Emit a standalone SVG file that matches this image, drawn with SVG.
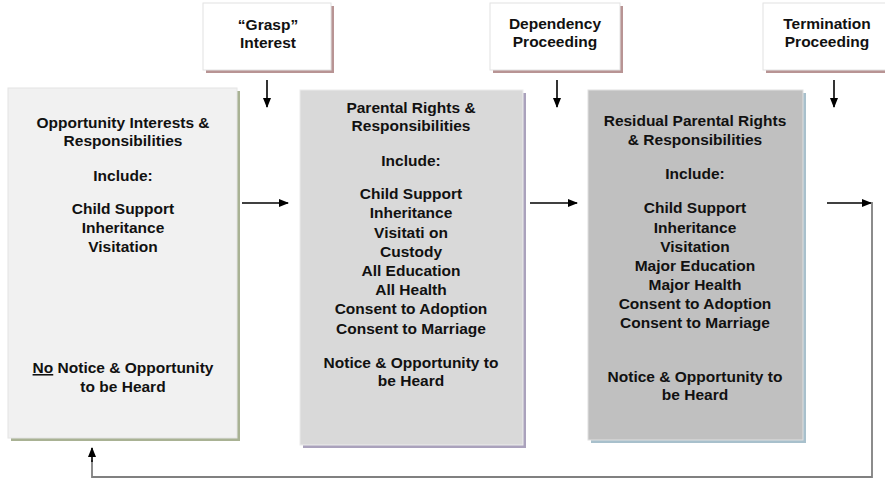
<svg xmlns="http://www.w3.org/2000/svg" width="885" height="481" viewBox="0 0 885 481">
<style>
text{font-family:"Liberation Sans",Arial,sans-serif;font-weight:bold;fill:#111;text-anchor:middle}
.t{font-size:15.5px}
.s{font-size:15.5px}
.arr{stroke:#000;stroke-width:1.6;fill:none}
.ret{stroke:#808080;stroke-width:1.8;fill:none}
.top{fill:#fff;stroke:#e2e2e2;stroke-width:1}
</style>
<defs>
<marker id="ah" markerWidth="10" markerHeight="8" refX="9" refY="4" orient="auto" markerUnits="userSpaceOnUse">
<path d="M0,0 L10,4 L0,8 Z" fill="#000"/>
</marker>
</defs>
<rect width="885" height="481" fill="#fff"/>

<g id="grasp">
<rect x="206" y="6" width="128" height="67" fill="#b89494"/>
<rect class="top" x="203" y="3" width="128" height="67"/>
<text class="s" x="268" y="30">“Grasp”</text>
<text class="s" x="268" y="48">Interest</text>
</g>
<g id="dependency">
<rect x="493" y="6" width="130" height="67" fill="#b89494"/>
<rect class="top" x="490" y="3" width="130" height="67"/>
<text class="s" x="555" y="29">Dependency</text>
<text class="s" x="555" y="47">Proceeding</text>
</g>
<g id="termination">
<rect x="766" y="6" width="130" height="67" fill="#b89494"/>
<rect class="top" x="763" y="3" width="130" height="67"/>
<text class="s" x="827" y="29">Termination</text>
<text class="s" x="827" y="47">Proceeding</text>
</g>

<g id="opportunity">
<rect x="11" y="91" width="229" height="350" fill="#a9b294"/>
<rect x="8" y="88" width="229" height="350" fill="#f1f1f1" stroke="#e4e4e4"/>
<text class="t" x="123" y="128">Opportunity Interests &amp;</text>
<text class="t" x="123" y="146">Responsibilities</text>
<text class="t" x="123" y="181">Include:</text>
<text class="t" x="123" y="214">Child Support</text>
<text class="t" x="123" y="233">Inheritance</text>
<text class="t" x="123" y="252">Visitation</text>
<text class="t" x="123" y="373"><tspan text-decoration="underline">No</tspan> Notice &amp; Opportunity</text>
<text class="t" x="123" y="392">to be Heard</text>
</g>

<g id="parental">
<rect x="303" y="93" width="223" height="355" fill="#aaa2bc"/>
<rect x="300" y="90" width="223" height="355" fill="#d9d9d9" stroke="#ececec"/>
<text class="t" x="411" y="113">Parental Rights &amp;</text>
<text class="t" x="411" y="131">Responsibilities</text>
<text class="t" x="411" y="166">Include:</text>
<text class="t" x="411" y="199">Child Support</text>
<text class="t" x="411" y="218">Inheritance</text>
<text class="t" x="411" y="238">Visitati on</text>
<text class="t" x="411" y="257">Custody</text>
<text class="t" x="411" y="276">All Education</text>
<text class="t" x="411" y="295">All Health</text>
<text class="t" x="411" y="314">Consent to Adoption</text>
<text class="t" x="411" y="334">Consent to Marriage</text>
<text class="t" x="411" y="368">Notice &amp; Opportunity to</text>
<text class="t" x="411" y="386">be Heard</text>
</g>

<g id="residual">
<rect x="591" y="93" width="215" height="350" fill="#a8c0cc"/>
<rect x="588" y="90" width="215" height="350" fill="#c0c0c0" stroke="#e0e0e0"/>
<text class="t" x="695" y="126">Residual Parental Rights</text>
<text class="t" x="695" y="145">&amp; Responsibilities</text>
<text class="t" x="695" y="179">Include:</text>
<text class="t" x="695" y="213">Child Support</text>
<text class="t" x="695" y="233">Inheritance</text>
<text class="t" x="695" y="252">Visitation</text>
<text class="t" x="695" y="271">Major Education</text>
<text class="t" x="695" y="290">Major Health</text>
<text class="t" x="695" y="309">Consent to Adoption</text>
<text class="t" x="695" y="328">Consent to Marriage</text>
<text class="t" x="695" y="382">Notice &amp; Opportunity to</text>
<text class="t" x="695" y="400">be Heard</text>
</g>

<g id="connectors">
<line class="arr" x1="267" y1="80" x2="267" y2="107" marker-end="url(#ah)"/>
<line class="arr" x1="557" y1="80" x2="557" y2="107" marker-end="url(#ah)"/>
<line class="arr" x1="834" y1="80" x2="834" y2="107" marker-end="url(#ah)"/>
<line class="arr" x1="242" y1="203" x2="288" y2="203" marker-end="url(#ah)"/>
<line class="arr" x1="530" y1="203" x2="577" y2="203" marker-end="url(#ah)"/>
<line class="arr" x1="827" y1="203" x2="871" y2="203" marker-end="url(#ah)"/>
<polyline class="ret" points="871,203 872,203 872,477 92,477 92,460"/>
<line class="arr" x1="92" y1="462" x2="92" y2="448" marker-end="url(#ah)"/>
</g>
</svg>
